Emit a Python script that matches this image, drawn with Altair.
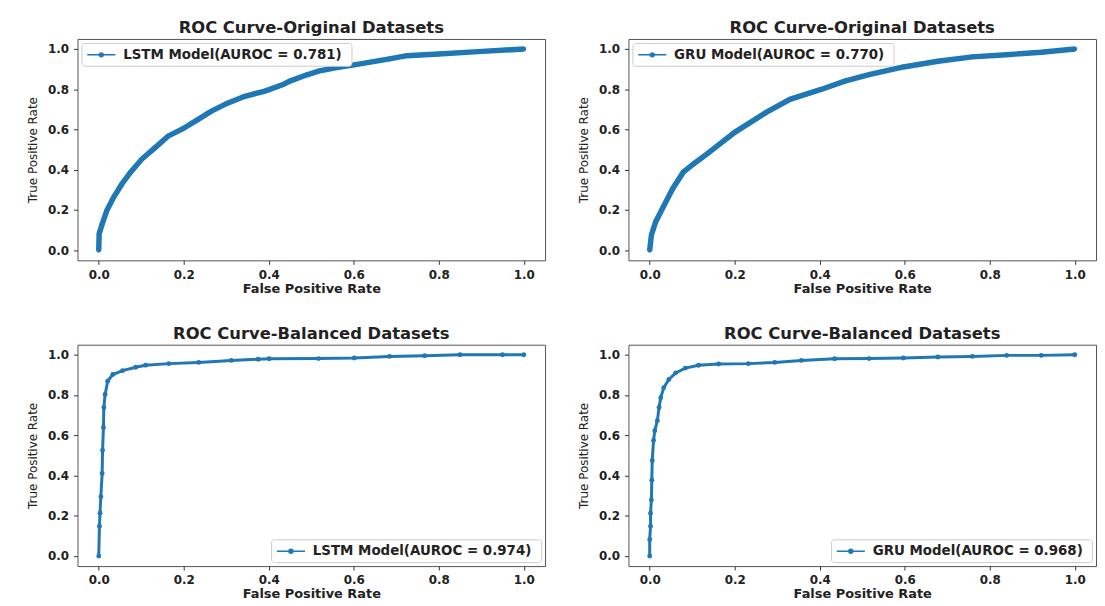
import altair as alt
import pandas as pd

# ---- data ----
lstm_orig_fpr = [0.0, 0.001, 0.008, 0.019, 0.035, 0.054, 0.074, 0.101, 0.132, 0.163, 0.198, 0.233,
                 0.264, 0.303, 0.342, 0.389, 0.401, 0.435, 0.451, 0.490, 0.517, 0.560, 0.601, 0.684,
                 0.725, 0.800, 0.892, 1.0]
lstm_orig_tpr = [0.0, 0.082, 0.130, 0.197, 0.263, 0.328, 0.386, 0.452, 0.509, 0.567, 0.604, 0.649,
                 0.690, 0.731, 0.764, 0.790, 0.798, 0.825, 0.842, 0.872, 0.890, 0.908, 0.921, 0.951,
                 0.967, 0.975, 0.987, 1.0]

gru_orig_fpr = [0.0, 0.004, 0.014, 0.030, 0.054, 0.079, 0.103, 0.135, 0.200, 0.273, 0.330, 0.403,
                0.459, 0.516, 0.597, 0.678, 0.759, 0.840, 0.921, 1.0]
gru_orig_tpr = [0.0, 0.076, 0.141, 0.207, 0.306, 0.388, 0.429, 0.479, 0.586, 0.684, 0.750, 0.799,
                0.840, 0.873, 0.911, 0.939, 0.961, 0.972, 0.984, 1.0]

lstm_bal_fpr = [0.0, 0.0016, 0.003, 0.005, 0.008, 0.009, 0.011, 0.012, 0.015, 0.021, 0.033, 0.056,
                0.087, 0.110, 0.165, 0.235, 0.312, 0.375, 0.401, 0.517, 0.601, 0.684, 0.767, 0.850,
                0.950, 1.0]
lstm_bal_tpr = [0.0, 0.148, 0.213, 0.295, 0.410, 0.525, 0.639, 0.738, 0.803, 0.869, 0.902, 0.921,
                0.938, 0.948, 0.956, 0.962, 0.972, 0.978, 0.980, 0.981, 0.984, 0.992, 0.995, 1.0,
                1.0, 1.0]

gru_bal_fpr = [0.0, 0.0, 0.002, 0.002, 0.004, 0.005, 0.006, 0.009, 0.012, 0.018, 0.022, 0.026,
               0.033, 0.045, 0.061, 0.084, 0.115, 0.162, 0.232, 0.294, 0.357, 0.435, 0.516, 0.597,
               0.678, 0.759, 0.840, 0.921, 1.0]
gru_bal_tpr = [0.0, 0.082, 0.148, 0.213, 0.279, 0.377, 0.475, 0.574, 0.623, 0.672, 0.738, 0.787,
               0.836, 0.877, 0.910, 0.934, 0.948, 0.954, 0.956, 0.962, 0.972, 0.980, 0.981, 0.984,
               0.989, 0.992, 0.997, 0.997, 1.0]

panel_titles = ["ROC Curve-Original Datasets", "ROC Curve-Original Datasets",
                "ROC Curve-Balanced Datasets", "ROC Curve-Balanced Datasets"]
legend_labels = ["LSTM Model(AUROC =  0.781)", "GRU Model(AUROC =  0.770)",
                 "LSTM Model(AUROC =  0.974)", "GRU Model(AUROC =  0.968)"]
tick_values = [0.0, 0.2, 0.4, 0.6, 0.8, 1.0]

BLUE = "#1f77b4"
FONT = "DejaVu Sans"
SYMBOL = "M-2,0H2M0.28,0A0.28,0.28,0,1,1,-0.28,0A0.28,0.28,0,1,1,0.28,0"


def panel(fpr, tpr, title, label, orient, sw):
    df = pd.DataFrame({"fpr": fpr, "tpr": tpr, "i": range(len(fpr)), "model": label})
    base = alt.Chart(df).encode(
        x=alt.X("fpr:Q", title="False Positive Rate",
                scale=alt.Scale(domain=[-0.05, 1.05], nice=False, zero=False),
                axis=alt.Axis(values=tick_values, format=".1f")),
        y=alt.Y("tpr:Q", title="True Positive Rate",
                scale=alt.Scale(domain=[-0.05, 1.05], nice=False, zero=False),
                axis=alt.Axis(values=tick_values, format=".1f")),
        order="i:Q",
        color=alt.Color("model:N", scale=alt.Scale(range=[BLUE]),
                        legend=alt.Legend(title=None, orient=orient, offset=4,
                                          symbolType=SYMBOL, symbolSize=200,
                                          symbolOffset=8,
                                          symbolStrokeWidth=1.5, symbolFillColor=BLUE,
                                          labelFont=FONT, labelFontWeight="bold",
                                          labelFontSize=13.5, labelColor="#222",
                                          labelLimit=500,
                                          fillColor="white", strokeColor="#cccccc",
                                          cornerRadius=3, padding=4, labelOffset=14)),
    )
    line = base.mark_line(strokeWidth=sw)
    pts = base.mark_circle(size=24, opacity=1)
    return alt.layer(line, pts).properties(width=471, height=223,
                                            title=alt.TitleParams(title))


p1 = panel(lstm_orig_fpr, lstm_orig_tpr, panel_titles[0], legend_labels[0], "top-left", 5.5)
p2 = panel(gru_orig_fpr, gru_orig_tpr, panel_titles[1], legend_labels[1], "top-left", 5.5)
p3 = panel(lstm_bal_fpr, lstm_bal_tpr, panel_titles[2], legend_labels[2], "bottom-right", 3)
p4 = panel(gru_bal_fpr, gru_bal_tpr, panel_titles[3], legend_labels[3], "bottom-right", 3)

top = alt.hconcat(p1, p2, spacing=31).resolve_scale(color="independent")
bottom = alt.hconcat(p3, p4, spacing=31).resolve_scale(color="independent")

chart = alt.vconcat(top, bottom, spacing=30).resolve_scale(color="independent").properties(
    padding={"left": 18, "top": 9, "right": 0, "bottom": 0}
).configure_view(
    stroke="#555555", strokeWidth=1
).configure_axis(
    grid=False, domain=False, tickColor="#333333", tickSize=4, labelPadding=5,
    labelFont=FONT, labelFontWeight="bold", labelFontSize=12, labelColor="#222222",
    titleFont=FONT, titleColor="#222222"
).configure_axisX(
    titleFontWeight="bold", titleFontSize=13, titlePadding=2
).configure_axisY(
    titleFontWeight="normal", titleFontSize=12, titlePadding=8
).configure_title(
    font=FONT, fontSize=16.5, fontWeight="bold", color="#222222", offset=2
)

chart.save("out.html", embed_options={"renderer": "svg", "actions": False})
